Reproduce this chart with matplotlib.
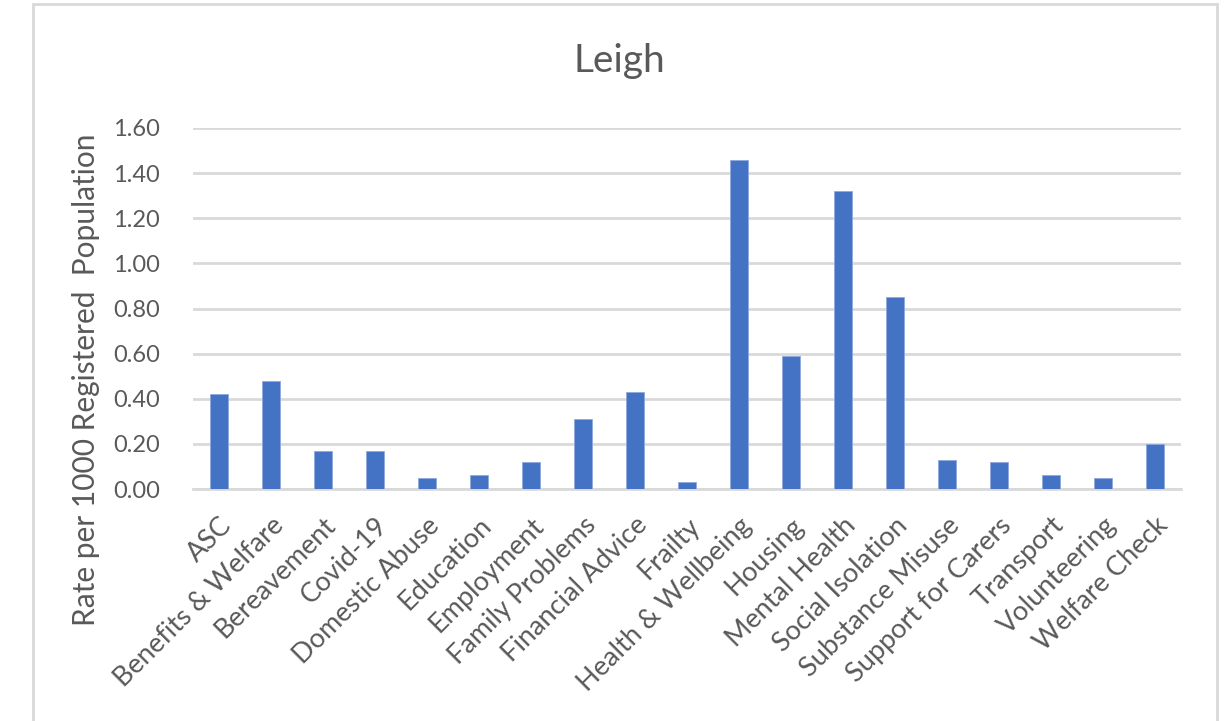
import matplotlib.pyplot as plt
from matplotlib.patches import Rectangle
import numpy as np

categories = ["ASC", "Benefits & Welfare", "Bereavement", "Covid-19", "Domestic Abuse",
              "Education", "Employment", "Family Problems", "Financial Advice", "Frailty",
              "Health & Wellbeing", "Housing", "Mental Health", "Social Isolation",
              "Substance Misuse", "Support for Carers", "Transport", "Volunteering",
              "Welfare Check"]
rates = [0.42, 0.48, 0.17, 0.17, 0.05, 0.06, 0.12, 0.31, 0.43, 0.03,
         1.46, 0.59, 1.32, 0.85, 0.13, 0.12, 0.06, 0.05, 0.20]
yticks = [0.0, 0.2, 0.4, 0.6, 0.8, 1.0, 1.2, 1.4, 1.6]

plt.rcParams["font.family"] = ["Lato", "DejaVu Sans"]
text_col = "#595959"
grid_col = "#d9d9d9"

fig = plt.figure(figsize=(12.28, 7.21), dpi=100)
ax = fig.add_axes([193 / 1228, 1 - 489 / 721, (1181 - 193) / 1228, (489 - 128) / 721])

x = np.arange(len(categories))
ax.bar(x, rates, width=0.34, color="#4472c4", edgecolor="#8fa9dc", linewidth=0.6, zorder=3)

ax.set_xlim(-0.5, len(categories) - 0.5)
ax.set_ylim(0, 1.6)
ax.set_yticks(yticks)
ax.set_yticklabels([f"{v:.2f}" for v in yticks])
ax.set_xticks(x)
ax.set_xticklabels(categories, rotation=45, ha="right", rotation_mode="anchor", fontsize=19.5)

ax.grid(axis="y", color=grid_col, linewidth=2, zorder=0)
for s in ["top", "right", "left"]:
    ax.spines[s].set_visible(False)
ax.spines["bottom"].set_color(grid_col)
ax.spines["bottom"].set_linewidth(2)
ax.tick_params(axis="both", length=0, colors=text_col)
ax.tick_params(axis="y", pad=24, labelsize=17)
ax.tick_params(axis="x", pad=17)

# y label centred on the whole plot block, like the original
fig.text(86 / 1228, 1 - 380 / 721, "Rate per 1000 Registered  Population", rotation=90,
         ha="center", va="center", fontsize=21.5, color=text_col)
fig.text(619 / 1228, 1 - 61 / 721, "Leigh", ha="center", va="center", fontsize=28, color=text_col)

fig.patches.append(Rectangle((33 / 1228, -0.05), (1217 - 33) / 1228, 1.05 - 4 / 721,
                             transform=fig.transFigure, fill=False,
                             edgecolor=grid_col, linewidth=2))

plt.savefig("out.png", dpi=100)
